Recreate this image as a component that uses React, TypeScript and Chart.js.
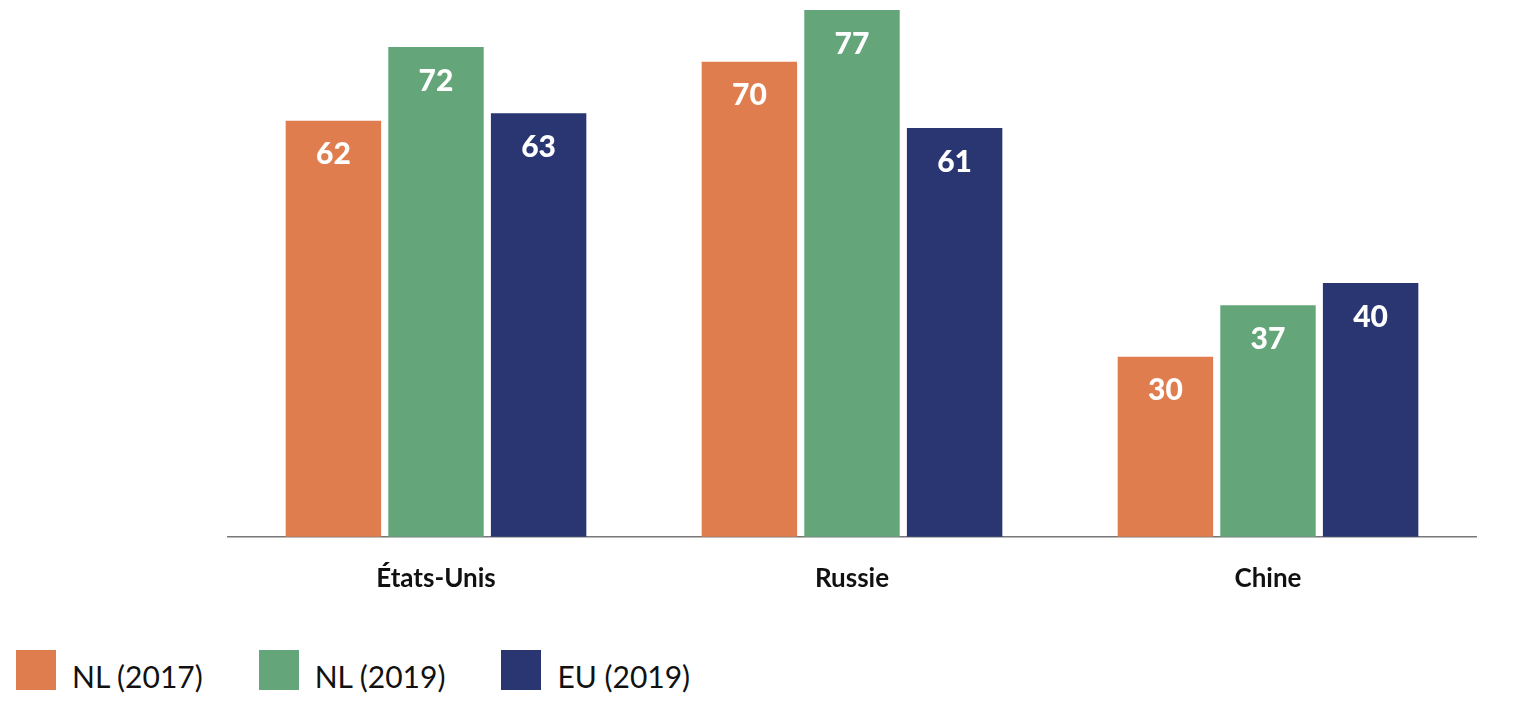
import React, { useEffect, useRef } from "react";
import { Chart, registerables } from "chart.js";
Chart.register(...registerables);

const categories = ["États-Unis", "Russie", "Chine"];
const seriesNames = ["NL (2017)", "NL (2019)", "EU (2019)"];
const nl2017 = [62, 70, 30];
const nl2019 = [72, 77, 37];
const eu2019 = [63, 61, 40];
const colors = ["#E07D4F", "#64A67A", "#293672"];

const FONT = "Lato, 'Open Sans', sans-serif";

const labelPlugin = {
  id: "barLabels",
  afterDatasetsDraw(chart: any) {
    const ctx = chart.ctx;
    ctx.save();
    ctx.fillStyle = "#fff";
    ctx.font = `900 30px ${FONT}`;
    ctx.textAlign = "center";
    ctx.textBaseline = "middle";
    chart.data.datasets.forEach((ds: any, i: number) => {
      chart.getDatasetMeta(i).data.forEach((bar: any, j: number) => {
        ctx.fillText(String(ds.data[j]), bar.x, bar.y + 34);
      });
    });
    ctx.restore();
  },
};

export default function App() {
  const ref = useRef<HTMLCanvasElement>(null);
  useEffect(() => {
    const chart = new Chart(ref.current!, {
      type: "bar",
      data: {
        labels: categories,
        datasets: [nl2017, nl2019, eu2019].map((d, i) => ({
          label: seriesNames[i],
          data: d,
          backgroundColor: colors[i],
          categoryPercentage: 0.74,
          barPercentage: 0.93,
        })),
      },
      options: {
        animation: false,
        responsive: false,
        maintainAspectRatio: false,
        layout: { padding: { left: 228, right: 58, top: 10, bottom: 8 } },
        plugins: { legend: { display: false }, tooltip: { enabled: false } },
        scales: {
          x: {
            grid: { display: false },
            border: { display: true, color: "#777", width: 1.5 },
            ticks: { color: "#111", font: { family: FONT, size: 26, weight: "bold" }, padding: 18 },
          },
          y: { display: false, min: 5.6, max: 77 },
        },
      },
      plugins: [labelPlugin],
    });
    return () => chart.destroy();
  }, []);
  return (
    <div style={{ position: "absolute", left: 0, top: 0, width: 1534, height: 712, background: "#fff" }}>
      <canvas ref={ref} width={1534} height={620} style={{ position: "absolute", left: 0, top: 0 }} />
      <div style={{ position: "absolute", left: 16, top: 650, display: "flex", fontFamily: FONT, fontSize: 30, color: "#111" }}>
        {seriesNames.map((n, i) => (
          <div key={n} style={{ display: "flex", alignItems: "center", marginRight: 56 }}>
            <div style={{ width: 40, height: 40, background: colors[i], marginRight: 16 }} />
            <span style={{ position: "relative", top: 6 }}>{n}</span>
          </div>
        ))}
      </div>
    </div>
  );
}
